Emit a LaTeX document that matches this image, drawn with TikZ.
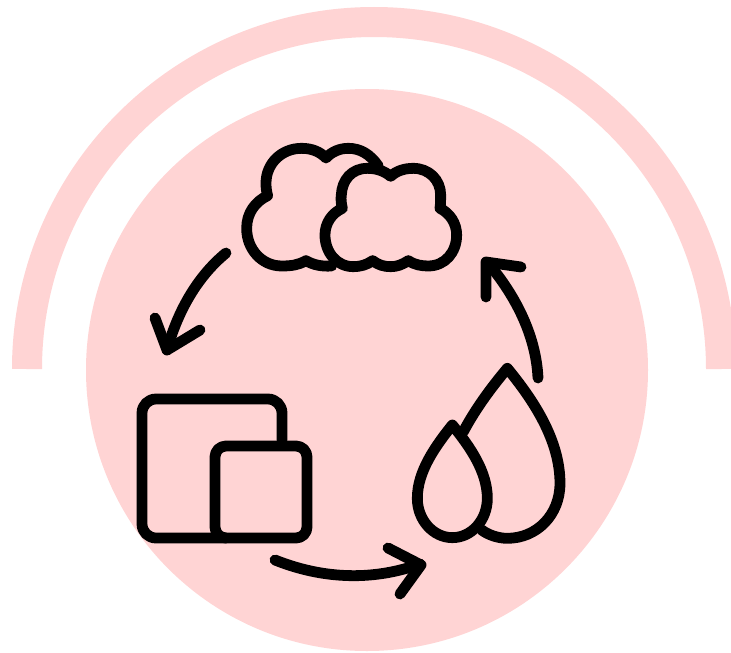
\documentclass[tikz,border=0pt]{standalone}
\definecolor{pinkbg}{HTML}{FFD4D4}
\tikzset{ink/.style={draw=black,line width=10.8pt,line cap=round,line join=round}}
\begin{document}
\begin{tikzpicture}[x=1pt,y=-1pt]
\useasboundingbox (0,0) rectangle (731,653);
\fill[white] (0,0) rectangle (731,653);
% backdrop
\fill[pinkbg] (367,370) circle[radius=281pt];
\begin{scope}
\clip (0,0) rectangle (731,653);
\draw[pinkbg,line width=30pt] (27,369) arc[start angle=180,end angle=0,radius=347pt];
\end{scope}
% clouds
\begin{scope}[shift={(230,130)},x=0.3333pt,y=-0.3333pt]
\draw[ink] (445,108) .. controls (420,72) and (390,55) .. (355,55) .. controls (330,55) and (305,65) .. (288,84)
  .. controls (270,65) and (245,55) .. (215,55) .. controls (155,55) and (108,100) .. (108,160) .. controls (108,175) and (110,187) .. (113,197)
  .. controls (75,215) and (50,250) .. (50,295) .. controls (50,357) and (95,408) .. (155,408) .. controls (185,408) and (205,405) .. (228,392)
  .. controls (250,405) and (275,410) .. (305,408);
\draw[ink] (482,139) .. controls (500,122) and (525,115) .. (550,115) .. controls (597,115) and (632,150) .. (632,195) .. controls (632,208) and (632,222) .. (630,235)
  .. controls (660,250) and (680,280) .. (680,315) .. controls (680,367) and (645,408) .. (595,408) .. controls (575,408) and (555,405) .. (535,392)
  .. controls (515,405) and (500,410) .. (482,410) .. controls (462,410) and (445,405) .. (428,392)
  .. controls (410,405) and (390,410) .. (370,410) .. controls (320,410) and (285,367) .. (285,315) .. controls (285,280) and (305,250) .. (337,235)
  .. controls (334,222) and (332,208) .. (334,195) .. controls (336,150) and (365,115) .. (412,115) .. controls (438,115) and (462,122) .. (482,139) -- cycle;
\end{scope}
% drops
\begin{scope}[shift={(400,350)},x=0.3333pt,y=-0.3333pt]
\draw[ink] (190,245) .. controls (230,170) and (280,105) .. (322,55) .. controls (400,150) and (480,270) .. (480,400)
  .. controls (480,495) and (410,565) .. (322,565) .. controls (295,565) and (265,555) .. (245,540);
\draw[ink] (157,225) .. controls (210,290) and (262,365) .. (262,445) .. controls (262,510) and (215,563) .. (157,563)
  .. controls (100,563) and (52,510) .. (52,445) .. controls (52,365) and (105,290) .. (157,225) -- cycle;
\end{scope}
% panels
\draw[ink,rounded corners=14pt] (282,440) -- (282,399) -- (142,399) -- (142,538) -- (226,538);
\draw[ink,rounded corners=11pt] (215,446) rectangle (307,538);
% arrows
\draw[ink] (226,253) .. controls (198,276) and (178,310) .. (167,350);
\draw[ink] (155,318) -- (167,350) -- (200,330);
\draw[ink] (275,560) .. controls (320,578) and (370,582) .. (420,564);
\draw[ink] (388,548) -- (421,565) -- (400,594);
\draw[ink] (538,378) .. controls (536,335) and (515,295) .. (488,263);
\draw[ink] (486,297) -- (486,262) -- (521,267);
\end{tikzpicture}
\end{document}
